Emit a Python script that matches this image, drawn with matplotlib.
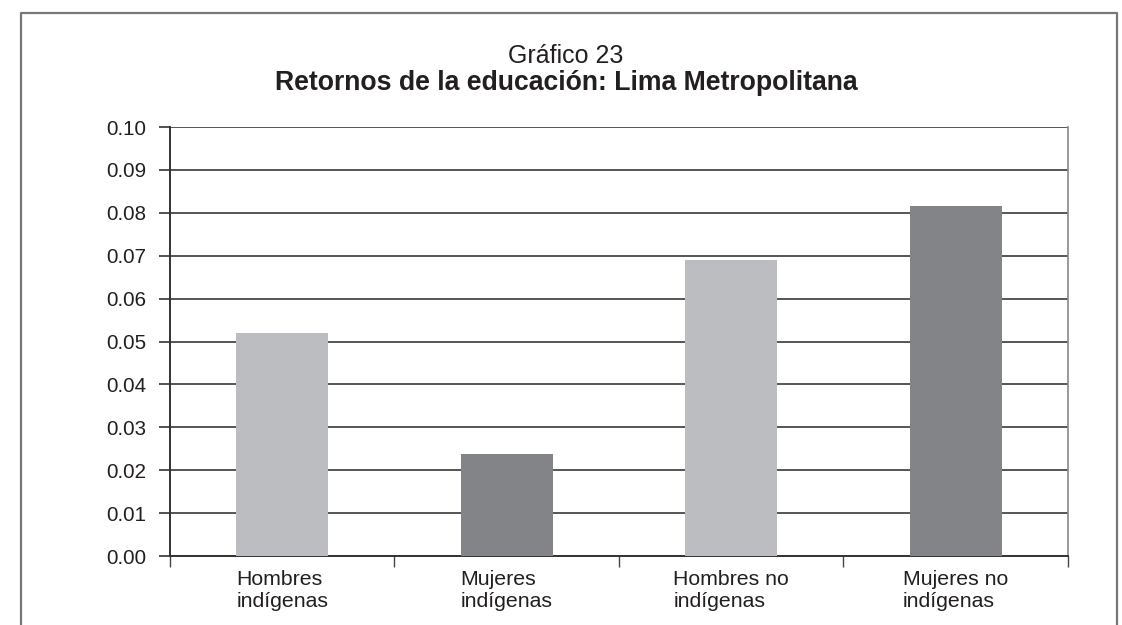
import matplotlib.pyplot as plt
from matplotlib.lines import Line2D
from matplotlib.ticker import FixedLocator
from matplotlib.transforms import ScaledTranslation

plt.rcParams['font.family'] = ['Liberation Sans', 'DejaVu Sans']

categories = ["Hombres\nindígenas", "Mujeres\nindígenas",
              "Hombres no\nindígenas", "Mujeres no\nindígenas"]
values = [0.052, 0.0238, 0.069, 0.0816]
colors = ["#bcbdc1", "#838488", "#bcbdc1", "#838488"]
yticks = [0.00, 0.01, 0.02, 0.03, 0.04, 0.05, 0.06, 0.07, 0.08, 0.09, 0.10]

fig = plt.figure(figsize=(11.22, 6.25), dpi=100)
ax = fig.add_axes([0.1515, 0.1104, 0.8003, 0.6864])

x = range(len(categories))
ax.bar(x, values, width=0.41, color=colors, zorder=3)

ax.set_xlim(-0.5, len(categories) - 0.5)
ax.set_ylim(0, 0.10)
ax.set_yticks(yticks)
ax.set_yticklabels([f"{v:.2f}" for v in yticks], fontsize=14.8, color="#231f20")
ax.tick_params(axis="y", direction="out", length=8, width=1.2, color="#333333", pad=9)
ax.yaxis.grid(True, color="#555555", linewidth=1.4, zorder=0)

ax.set_xticks(list(x))
ax.set_xticklabels(categories, fontsize=15.3, color="#231f20",
                   multialignment="left", linespacing=1.2)
shift = ScaledTranslation(-6 / 100, 0, fig.dpi_scale_trans)
for lab in ax.get_xticklabels():
    lab.set_transform(lab.get_transform() + shift)
ax.tick_params(axis="x", which="major", length=0, pad=10)
ax.xaxis.set_minor_locator(FixedLocator([i - 0.5 for i in range(len(categories) + 1)]))
ax.tick_params(axis="x", which="minor", direction="out", length=8, width=1, color="#444444")

ax.spines["top"].set_visible(False)
ax.spines["left"].set_color("#333333")
ax.spines["left"].set_linewidth(1.4)
ax.spines["bottom"].set_color("#333333")
ax.spines["bottom"].set_linewidth(1.4)
ax.spines["right"].set_color("#888888")
ax.spines["right"].set_linewidth(1.2)

fig.text(0.5045, 1 - 63 / 625, "Gráfico 23", ha="center", va="baseline",
         fontsize=18, color="#231f20")
fig.text(0.5045, 1 - 90 / 625, "Retornos de la educación: Lima Metropolitana", ha="center",
         va="baseline", fontsize=19.2, fontweight="bold", color="#231f20")

# outer frame (bottom edge lies outside the picture)
l, r, t = 21 / 1122, 1117 / 1122, 1 - 13 / 625
frame = Line2D([l, l, r, r], [-0.05, t, t, -0.05], transform=fig.transFigure,
               color="#777777", linewidth=1.6)
fig.add_artist(frame)

fig.savefig("out.png", dpi=100)
